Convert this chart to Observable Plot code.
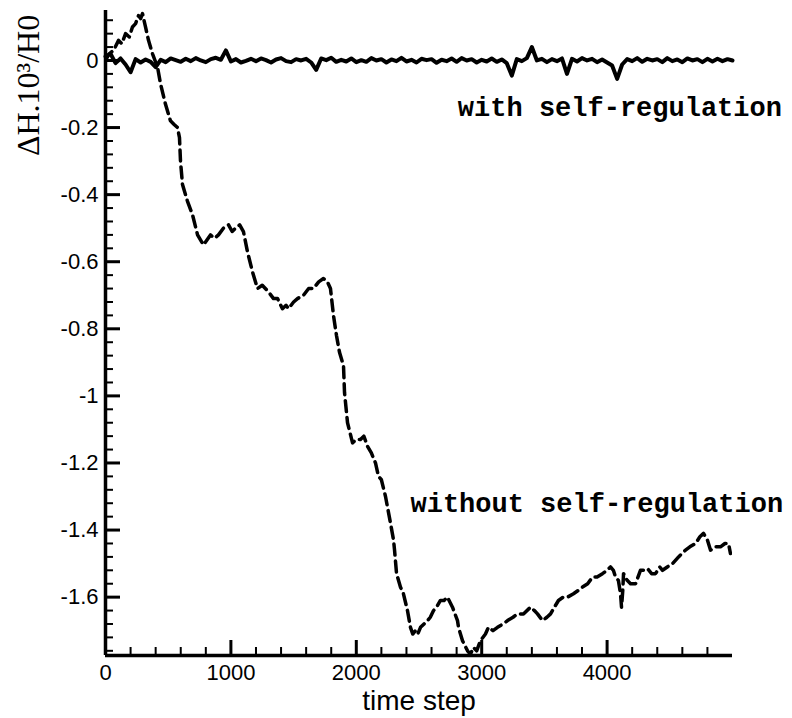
<!DOCTYPE html>
<html><head><meta charset="utf-8">
<script src="https://cdn.jsdelivr.net/npm/d3@7"></script>
<script src="https://cdn.jsdelivr.net/npm/@observablehq/plot@0.6"></script>
<style>body{margin:0;background:#fff}</style>
</head><body><div id="chart"></div>
<script>
// "without self-regulation" series (time step, ΔH·10^3/H0)
const withoutT = [0,30,64,104,130,160,190,215,240,263,280,295,319,343,375,415,439,478,518,545,574,590,598,614,654,694,734,781,837,870,901,940,981,1010,1037,1070,1100,1132,1172,1212,1250,1300,1340,1372,1411,1440,1459,1500,1531,1579,1620,1659,1700,1738,1770,1794,1818,1842,1866,1898,1906,1930,1970,2000,2033,2060,2089,2120,2153,2177,2200,2233,2273,2297,2305,2321,2352,2376,2408,2432,2450,2472,2490,2512,2540,2568,2590,2616,2640,2671,2700,2727,2767,2807,2815,2847,2887,2910,2935,2960,2990,3030,3054,3090,3126,3170,3206,3250,3285,3333,3389,3420,3445,3485,3520,3549,3580,3612,3650,3684,3732,3770,3804,3845,3884,3920,3963,4000,4027,4050,4067,4090,4107,4115,4125,4131,4160,4187,4227,4266,4300,4322,4355,4386,4420,4442,4480,4522,4570,4625,4660,4705,4740,4769,4800,4825,4860,4904,4940,4968,4984];
const withoutV = [0.0,0.02,0.03,0.06,0.05,0.08,0.07,0.10,0.11,0.134,0.125,0.14,0.10,0.06,0.02,-0.02,-0.07,-0.13,-0.18,-0.19,-0.20,-0.23,-0.30,-0.37,-0.42,-0.46,-0.52,-0.55,-0.52,-0.53,-0.52,-0.50,-0.49,-0.51,-0.50,-0.49,-0.51,-0.57,-0.63,-0.68,-0.67,-0.69,-0.71,-0.71,-0.74,-0.73,-0.74,-0.72,-0.71,-0.70,-0.68,-0.68,-0.66,-0.65,-0.66,-0.68,-0.76,-0.82,-0.87,-0.91,-0.99,-1.08,-1.14,-1.13,-1.13,-1.12,-1.15,-1.17,-1.20,-1.24,-1.25,-1.30,-1.38,-1.43,-1.46,-1.53,-1.57,-1.59,-1.64,-1.69,-1.71,-1.70,-1.71,-1.69,-1.68,-1.67,-1.66,-1.64,-1.63,-1.61,-1.61,-1.60,-1.63,-1.67,-1.69,-1.73,-1.76,-1.77,-1.75,-1.76,-1.73,-1.71,-1.69,-1.70,-1.69,-1.68,-1.67,-1.66,-1.65,-1.65,-1.63,-1.64,-1.65,-1.67,-1.66,-1.65,-1.63,-1.61,-1.60,-1.60,-1.59,-1.58,-1.57,-1.56,-1.54,-1.54,-1.53,-1.52,-1.51,-1.52,-1.54,-1.55,-1.59,-1.63,-1.58,-1.53,-1.55,-1.56,-1.56,-1.52,-1.52,-1.515,-1.53,-1.53,-1.51,-1.52,-1.51,-1.50,-1.48,-1.46,-1.45,-1.44,-1.42,-1.41,-1.43,-1.46,-1.45,-1.45,-1.44,-1.44,-1.47];

// "with self-regulation" series, read every 40 time steps
const withT = d3.range(0, 5001, 40);
const withV = [0.012,0.02,-0.008,0.006,-0.012,-0.035,0.004,-0.006,0.003,-0.004,
  -0.02,0.002,-0.005,0.006,0.001,-0.004,0.005,-0.002,0.007,0.0,
  -0.005,0.004,0.008,0.002,0.03,-0.003,0.004,-0.006,-0.001,0.005,
  -0.002,0.006,0.001,-0.006,0.003,0.007,-0.002,-0.005,0.004,0.0,
  0.005,-0.006,-0.028,0.006,0.001,0.008,-0.004,0.002,-0.003,0.006,
  -0.005,0.001,-0.004,0.007,0.0,0.004,-0.006,0.003,-0.002,0.008,
  -0.003,0.002,-0.006,0.005,0.001,0.004,-0.007,0.002,-0.002,0.006,
  -0.004,0.007,0.0,0.004,-0.006,0.002,-0.003,0.006,-0.004,0.003,
  -0.008,-0.045,0.004,-0.002,0.007,0.04,0.0,0.005,-0.005,0.004,
  -0.002,0.006,-0.04,0.005,-0.003,0.007,0.0,0.005,-0.005,0.003,
  -0.006,-0.015,-0.055,-0.012,0.004,-0.002,0.007,-0.004,0.005,0.0,
  0.004,-0.005,0.007,-0.002,0.003,-0.005,0.006,0.0,0.004,-0.005,
  0.005,-0.003,0.005,-0.002,0.004,0.0];

// ticks and labels
const xMajor = [0, 1000, 2000, 3000, 4000];
const xTickLabels = ["0", "1000", "2000", "3000", "4000"];
const xMinor = [200,400,600,800,1200,1400,1600,1800,2200,2400,2600,2800,3200,3400,3600,3800,4200,4400,4600,4800];
const yMajor = [0, -0.2, -0.4, -0.6, -0.8, -1, -1.2, -1.4, -1.6];
const yTickLabels = ["0", "-0.2", "-0.4", "-0.6", "-0.8", "-1", "-1.2", "-1.4", "-1.6"];
const yMinor = [0.12,0.08,0.04,-0.04,-0.08,-0.12,-0.16,-0.24,-0.28,-0.32,-0.36,-0.44,-0.48,-0.52,-0.56,-0.64,-0.68,-0.72,-0.76,-0.84,-0.88,-0.92,-0.96,-1.04,-1.08,-1.12,-1.16,-1.24,-1.28,-1.32,-1.36,-1.44,-1.48,-1.52,-1.56,-1.64,-1.68,-1.72,-1.76];

const xDomain = [0, 5000];
const yDomain = [-1.774, 0.149];
const annotations = ["with self-regulation", "without self-regulation"];
const xTitle = "time step";
const yTitle = "ΔH.10³/H0";

const withData = withT.map((t, i) => ({t, v: withV[i]}));
const withoutData = withoutT.map((t, i) => ({t, v: withoutV[i]}));

const sans = "'Liberation Sans', Arial, Helvetica, sans-serif";
const mono = "'Liberation Mono', 'Courier New', monospace";
const serif = "'Liberation Serif', 'Times New Roman', serif";

const chart = Plot.plot({
  width: 792, height: 718,
  marginLeft: 105, marginRight: 60, marginTop: 10, marginBottom: 63,
  x: {domain: xDomain},
  y: {domain: yDomain},
  style: {fontFamily: sans, background: "white", color: "black"},
  marks: [
    Plot.axisX(xMinor, {tickSize: -8, strokeWidth: 2, tickFormat: () => "", label: null}),
    Plot.axisX(xMajor, {tickSize: -15, strokeWidth: 3, tickPadding: 24, fontSize: 22,
      tickFormat: d => xTickLabels[xMajor.indexOf(d)], label: null}),
    Plot.axisY(yMinor, {tickSize: -8, strokeWidth: 2, tickFormat: () => "", label: null}),
    Plot.axisY(yMajor, {tickSize: -15, strokeWidth: 3, tickPadding: 22, fontSize: 22,
      tickFormat: d => yTickLabels[yMajor.indexOf(d)], label: null}),
    Plot.ruleX([xDomain[0]], {strokeWidth: 3.5}),
    Plot.ruleY([yDomain[0]], {strokeWidth: 3.5}),
    Plot.line(withData, {x: "t", y: "v", stroke: "black", strokeWidth: 4}),
    Plot.line(withoutData, {x: "t", y: "v", stroke: "black", strokeWidth: 3.5, strokeDasharray: "11,6", clip: true}),
    Plot.text([annotations[0]], {x: 2810, y: -0.14, text: d => d, textAnchor: "start",
      fontFamily: mono, fontWeight: "bold", fontSize: 27}),
    Plot.text([annotations[1]], {x: 2432, y: -1.32, text: d => d, textAnchor: "start",
      fontFamily: mono, fontWeight: "bold", fontSize: 27}),
    Plot.text([xTitle], {frameAnchor: "bottom", dy: 54, text: d => d, fontSize: 28, fontFamily: sans}),
    Plot.text([yTitle], {x: -614, y: -0.0745, rotate: -90, textAnchor: "middle", lineAnchor: "middle",
      text: d => d, fontSize: 32, fontFamily: serif})
  ]
});
document.getElementById("chart").appendChild(chart);
</script>
</body></html>
